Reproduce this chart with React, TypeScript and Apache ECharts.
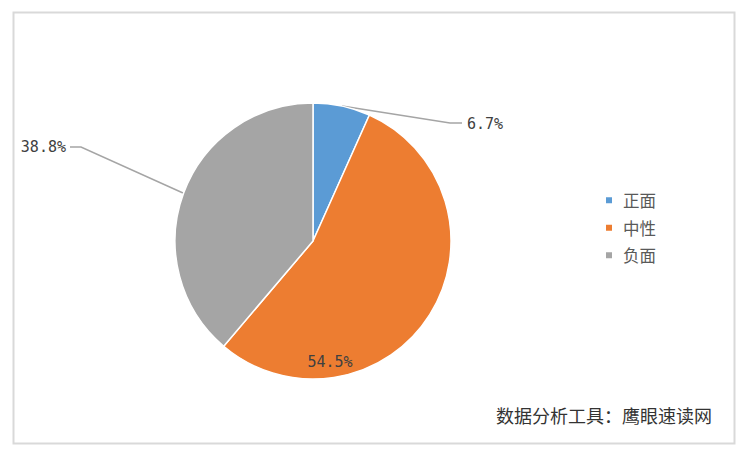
import React, { useEffect, useRef } from "react";
import * as echarts from "echarts";

const categories = ["正面", "中性", "负面"];
const values = [6.7, 54.5, 38.8];
const colors = ["#5B9BD5", "#ED7D31", "#A5A5A5"];
const sourceNote = "数据分析工具：鹰眼速读网";

export default function App() {
  const ref = useRef<HTMLDivElement>(null);
  useEffect(() => {
    document.body.style.margin = "0";
    const chart = echarts.init(ref.current!, null, { renderer: "svg" });
    const labelFont = "'DejaVu Sans Mono', 'Noto Sans CJK SC', monospace";
    chart.setOption({
      animation: false,
      backgroundColor: "#ffffff",
      color: colors,
      legend: {
        orient: "vertical",
        left: 599,
        top: 187,
        icon: "rect",
        itemWidth: 8,
        itemHeight: 8,
        itemGap: 11,
        data: categories,
        textStyle: {
          color: "#595959",
          fontSize: 16.5,
          fontFamily: "'Noto Sans CJK SC', sans-serif",
          padding: [0, 0, 0, 5],
        },
      },
      graphic: [
        {
          type: "rect",
          left: 11,
          top: 10,
          shape: { width: 721, height: 431 },
          style: { fill: "none", stroke: "#D9D9D9", lineWidth: 2 },
          silent: true,
        },
        {
          type: "text",
          right: 31,
          top: 406,
          style: {
            text: sourceNote,
            fill: "#333333",
            fontSize: 18,
            fontFamily: "'Noto Sans CJK SC', sans-serif",
          },
        },
      ],
      series: [
        {
          type: "pie",
          center: [313, 241],
          radius: 138,
          startAngle: 90,
          clockwise: true,
          itemStyle: { borderColor: "#ffffff", borderWidth: 1.5 },
          label: {
            show: true,
            formatter: (p: any) => p.value.toFixed(1) + "%",
            color: "#404040",
            fontSize: 15,
            fontFamily: labelFont,
          },
          labelLine: {
            show: true,
            lineStyle: { color: "#A5A5A5", width: 1.5 },
          },
          labelLayout: (p: any) => {
            if (p.dataIndex === 0) {
              return {
                x: 467,
                y: 124,
                align: "left",
                verticalAlign: "middle",
                labelLinePoints: [
                  [342, 106],
                  [450, 123],
                  [462, 123],
                ],
              };
            }
            if (p.dataIndex === 2) {
              return {
                x: 66,
                y: 147,
                align: "right",
                verticalAlign: "middle",
                labelLinePoints: [
                  [183, 193],
                  [81, 147],
                  [70, 147],
                ],
              };
            }
            return { x: 330, y: 362, align: "center", verticalAlign: "middle" };
          },
          data: categories.map((name, i) => ({
            name,
            value: values[i],
            ...(i === 1
              ? { label: { position: "inside" }, labelLine: { show: false } }
              : {}),
          })),
        },
      ],
    });
    return () => chart.dispose();
  }, []);
  return <div ref={ref} style={{ width: 743, height: 453 }} />;
}
